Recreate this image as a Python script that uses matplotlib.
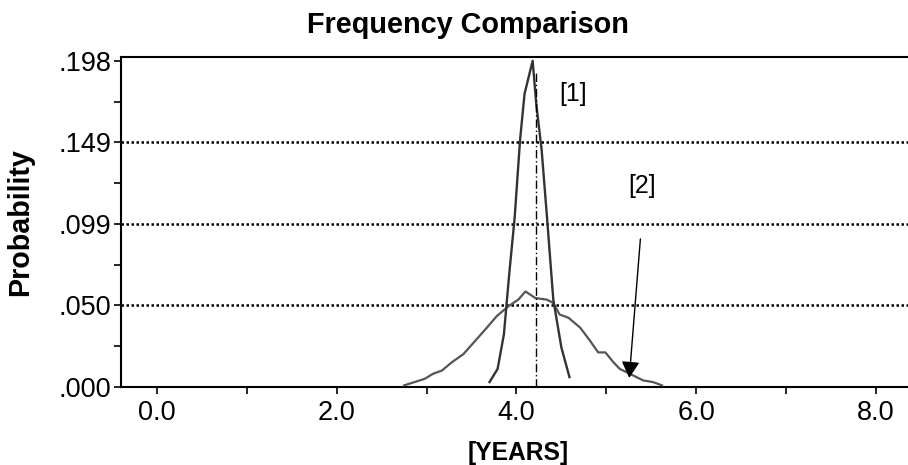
import matplotlib
matplotlib.use("Agg")
import matplotlib.pyplot as plt

plt.rcParams['font.family'] = ['Liberation Sans', 'DejaVu Sans']

# Narrow distribution [1]
x1 = [3.70, 3.79, 3.86, 3.92, 3.98, 4.04, 4.09, 4.18, 4.22, 4.28, 4.34, 4.41, 4.50, 4.59]
y1 = [0.003, 0.011, 0.032, 0.069, 0.103, 0.150, 0.178, 0.198, 0.172, 0.144, 0.103, 0.053, 0.024, 0.006]

# Wide distribution [2]
x2 = [2.75, 2.98, 3.07, 3.17, 3.28, 3.41, 3.54, 3.67, 3.78, 3.91, 4.02, 4.10, 4.21, 4.34,
      4.41, 4.48, 4.58, 4.71, 4.82, 4.91, 4.99, 5.08, 5.15, 5.30, 5.41, 5.52, 5.62]
y2 = [0.001, 0.005, 0.008, 0.010, 0.015, 0.020, 0.028, 0.036, 0.043, 0.049, 0.053, 0.058, 0.054, 0.053,
      0.051, 0.044, 0.042, 0.036, 0.028, 0.021, 0.021, 0.015, 0.011, 0.007, 0.004, 0.003, 0.001]

mean_x = 4.22
yticks = [0.0, 0.0495, 0.099, 0.1485, 0.198]
ytick_labels = ['.000', '.050', '.099', '.149', '.198']
grid_vals = [0.0495, 0.099, 0.1485]
xticks = [0, 2, 4, 6, 8]
xtick_labels = ['0.0', '2.0', '4.0', '6.0', '8.0']

fig = plt.figure(figsize=(9.08, 4.65), dpi=100)
ax = fig.add_axes([121/908, 78/465, 1 - 121/908, (387 - 56.7)/465])

for g in grid_vals:
    ax.axhline(g, color='black', lw=1.8, linestyle=(0, (1, 1)), zorder=1)

ax.plot(x2, y2, color='#555555', lw=1.6, zorder=3)
ax.plot(x1, y1, color='#333333', lw=1.7, zorder=4)
ax.vlines(mean_x, 0, 0.191, color='black', lw=1.0, linestyles=(0, (6, 2, 1, 2)), zorder=5)

ax.text(4.63, 0.178, '[1]', fontsize=18, ha='center', va='center')
ax.text(5.40, 0.122, '[2]', fontsize=18, ha='center', va='center')
ax.annotate('', xy=(5.256, 0.0055), xytext=(5.38, 0.0899),
            arrowprops=dict(arrowstyle='-|>,head_length=1.0,head_width=0.55', color='black', lw=1.0,
                            shrinkA=0, shrinkB=0), zorder=6)

ax.set_xlim(-0.404, 8.36)
ax.set_ylim(0, 0.2005)
ax.set_xticks(xticks)
ax.set_xticklabels(xtick_labels)
ax.set_xticks([1, 3, 5, 7], minor=True)
ax.set_yticks(yticks)
ax.set_yticklabels(ytick_labels)
ax.set_yticks([0.02475, 0.07425, 0.12375, 0.17325], minor=True)
ax.tick_params(axis='both', which='both', direction='out', length=5, width=1.2, labelsize=19.5, pad=4)
ax.tick_params(axis='y', which='both', pad=2)

ax.spines['right'].set_visible(False)
for side in ['left', 'bottom', 'top']:
    ax.spines[side].set_linewidth(1.5)

fig.text(468/908, 1 - 33/465, 'Frequency Comparison', fontsize=20.8, fontweight='bold',
         ha='center', va='baseline')
fig.text(20/908, 1 - 222/465, 'Probability', fontsize=20.6, fontweight='bold',
         rotation=90, ha='center', va='center')
fig.text(518/908, 1 - 453/465, '[YEARS]', fontsize=17.7, fontweight='bold', ha='center', va='center')

fig.savefig('out.png', dpi=100)
